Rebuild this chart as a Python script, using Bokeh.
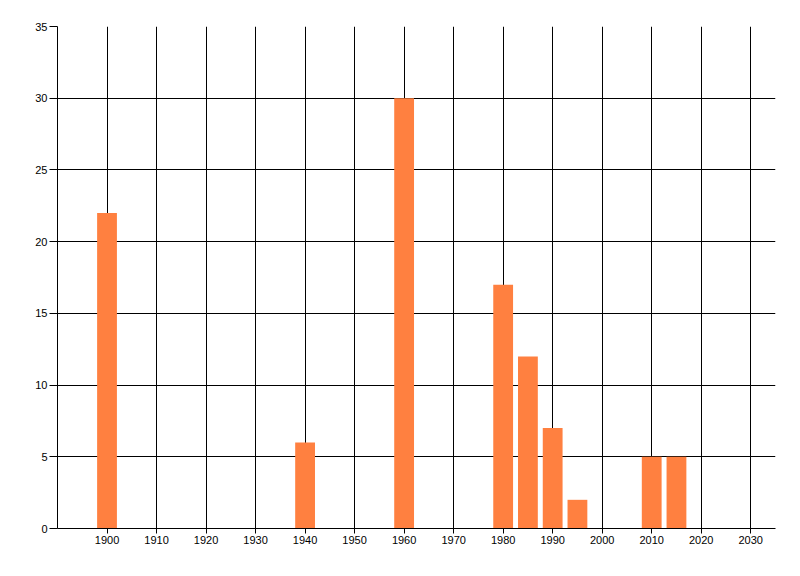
from bokeh.plotting import figure
from bokeh.models import Range1d, FixedTicker, ColumnDataSource
from bokeh.embed import file_html
from bokeh.resources import INLINE

years = [1900, 1940, 1960, 1980, 1985, 1990, 1995, 2010, 2015]
counts = [22, 6, 30, 17, 12, 7, 2, 5, 5]
x_ticks = [1900, 1910, 1920, 1930, 1940, 1950, 1960, 1970, 1980, 1990, 2000, 2010, 2020, 2030]
y_ticks = [0, 5, 10, 15, 20, 25, 30, 35]

src = ColumnDataSource(data=dict(x=years, top=counts))

p = figure(width=792, height=568, output_backend="svg", toolbar_location=None,
           x_range=Range1d(1890, 2035), y_range=Range1d(0, 35),
           min_border_left=57, min_border_right=17, min_border_top=26, min_border_bottom=40)
p.outline_line_color = None
p.background_fill_color = "white"
p.border_fill_color = "white"

p.vbar(x="x", top="top", bottom=0, width=4, source=src,
       fill_color="#FF8040", line_color=None)

font = "Liberation Sans"
for ax, tk, tout in ((p.xaxis[0], x_ticks, 5), (p.yaxis[0], y_ticks, 8)):
    ax.ticker = FixedTicker(ticks=tk)
    ax.major_tick_in = 0
    ax.major_tick_out = tout
    ax.minor_tick_line_color = None
    ax.axis_line_color = "black"
    ax.major_tick_line_color = "black"
    ax.major_label_text_font = font
    ax.major_label_text_font_size = "11px"
    ax.major_label_text_color = "black"
    ax.major_label_standoff = 2

p.xgrid[0].ticker = FixedTicker(ticks=x_ticks)
p.ygrid[0].ticker = FixedTicker(ticks=y_ticks)
p.xgrid[0].grid_line_color = "black"
p.ygrid[0].grid_line_color = "black"
p.xgrid[0].grid_line_alpha = 1
p.ygrid[0].grid_line_alpha = 1

open("out.html", "w").write(file_html(p, INLINE))
